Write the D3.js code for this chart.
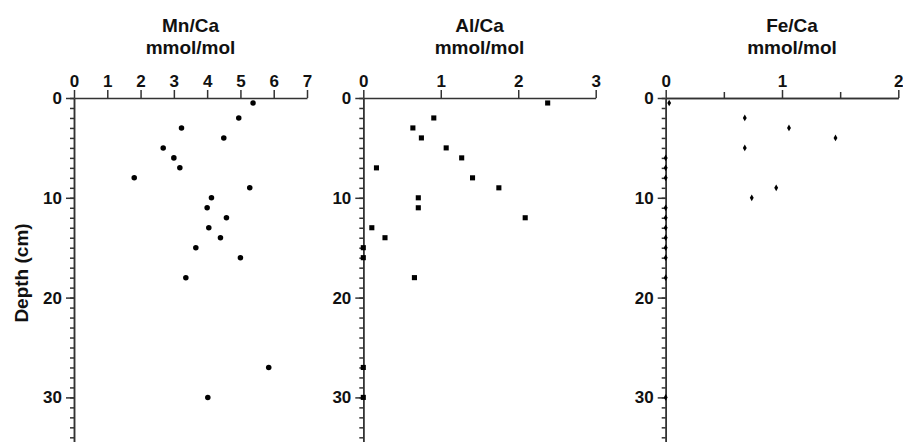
<!DOCTYPE html>
<html>
<head>
<meta charset="utf-8">
<script src="https://cdn.jsdelivr.net/npm/d3@7"></script>
<style>
  body { margin: 0; background: #fff; }
  svg text { font-family: Arial, "Liberation Sans", sans-serif; font-weight: bold; fill: #111; }
  .axis path, .axis line { stroke: #333; stroke-width: 1.5; }
  .axis text { font-size: 17px; }
  .title { font-size: 19px; }
</style>
</head>
<body>
<div id="svganchor"></div>
<script>
let width = 903, height = 442;

// depths (cm) shared by all three profiles
let depth = [0.5, 2, 3, 4, 5, 6, 7, 8, 9, 10, 11, 12, 13, 14, 15, 16, 18, 27, 30];

let mnCa = [5.38, 4.95, 3.23, 4.5, 2.68, 3.0, 3.18, 1.81, 5.28, 4.13, 4.0, 4.58, 4.05, 4.4, 3.66, 5.0, 3.36, 5.85, 4.02];
let alCa = [2.38, 0.91, 0.64, 0.75, 1.07, 1.27, 0.17, 1.41, 1.75, 0.71, 0.71, 2.09, 0.11, 0.28, 0, 0, 0.66, 0, 0];
let feCa = [0.03, 0.68, 1.06, 1.46, 0.68, 0, 0, 0, 0.95, 0.74, 0, 0, 0, 0, 0, 0, 0, null, 0];

let depthTicks = [0, 10, 20, 30];

let panels = [
    {name: "Mn/Ca", values: mnCa, domain: [0, 7], range: [74, 307], ticks: d3.range(0, 8), minor: [], symbol: d3.symbolCircle, size: 24, titleShift: 0},
    {name: "Al/Ca", values: alCa, domain: [0, 3], range: [363.3, 595.7], ticks: [0, 1, 2, 3], minor: [], symbol: d3.symbolSquare, size: 26, titleShift: 0},
    {name: "Fe/Ca", values: feCa, domain: [0, 2], range: [665.7, 898.3], ticks: [0, 1, 2], minor: [0.5, 1.5], symbol: d3.symbolDiamond, size: 13, titleShift: 10}
];

let svg = d3.select("#svganchor")
    .append("svg")
    .attr("width", width)
    .attr("height", height);

let yScale = d3.scaleLinear()
    .domain([0, 35])
    .range([98, 98 + 35 * 9.98]);

panels.forEach(function(p) {
    let xScale = d3.scaleLinear().domain(p.domain).range(p.range);
    let x0 = p.range[0];

    // minor depth ticks every cm
    svg.append("g")
        .attr("class", "axis")
        .attr("transform", "translate(" + x0 + ",0)")
        .call(d3.axisLeft(yScale).tickValues(d3.range(0, 35)).tickSize(4).tickSizeOuter(0).tickFormat(""));

    svg.append("g")
        .attr("class", "axis")
        .attr("transform", "translate(" + x0 + ",0)")
        .call(d3.axisLeft(yScale).tickValues(depthTicks).tickSize(8).tickPadding(4).tickSizeOuter(0));

    if (p.minor.length) {
        svg.append("g")
            .attr("class", "axis")
            .attr("transform", "translate(0," + yScale(0) + ")")
            .call(d3.axisTop(xScale).tickValues(p.minor).tickSize(6).tickSizeOuter(0).tickFormat(""));
    }

    svg.append("g")
        .attr("class", "axis")
        .attr("transform", "translate(0," + yScale(0) + ")")
        .call(d3.axisTop(xScale).tickValues(p.ticks).tickSize(8).tickPadding(3).tickSizeOuter(0).tickFormat(d3.format("d")));

    let cx = (p.range[0] + p.range[1]) / 2 + p.titleShift;
    svg.append("text")
        .attr("class", "title")
        .attr("text-anchor", "middle")
        .attr("x", cx)
        .attr("y", 32)
        .text(p.name);
    svg.append("text")
        .attr("class", "title")
        .attr("text-anchor", "middle")
        .attr("x", cx)
        .attr("y", 54)
        .text("mmol/mol");

    let pts = depth.map(function(d, i) { return {depth: d, value: p.values[i]}; })
        .filter(function(d) { return d.value !== null; });

    svg.selectAll(null)
        .data(pts)
        .enter()
        .append("path")
        .attr("d", d3.symbol().type(p.symbol).size(p.size))
        .attr("transform", function(d) {
            return "translate(" + xScale(d.value) + "," + yScale(d.depth) + ")";
        })
        .attr("fill", "#000");
});

svg.append("text")
    .attr("class", "title")
    .attr("text-anchor", "middle")
    .attr("transform", "translate(28,273) rotate(-90)")
    .text("Depth (cm)");
</script>
</body>
</html>
